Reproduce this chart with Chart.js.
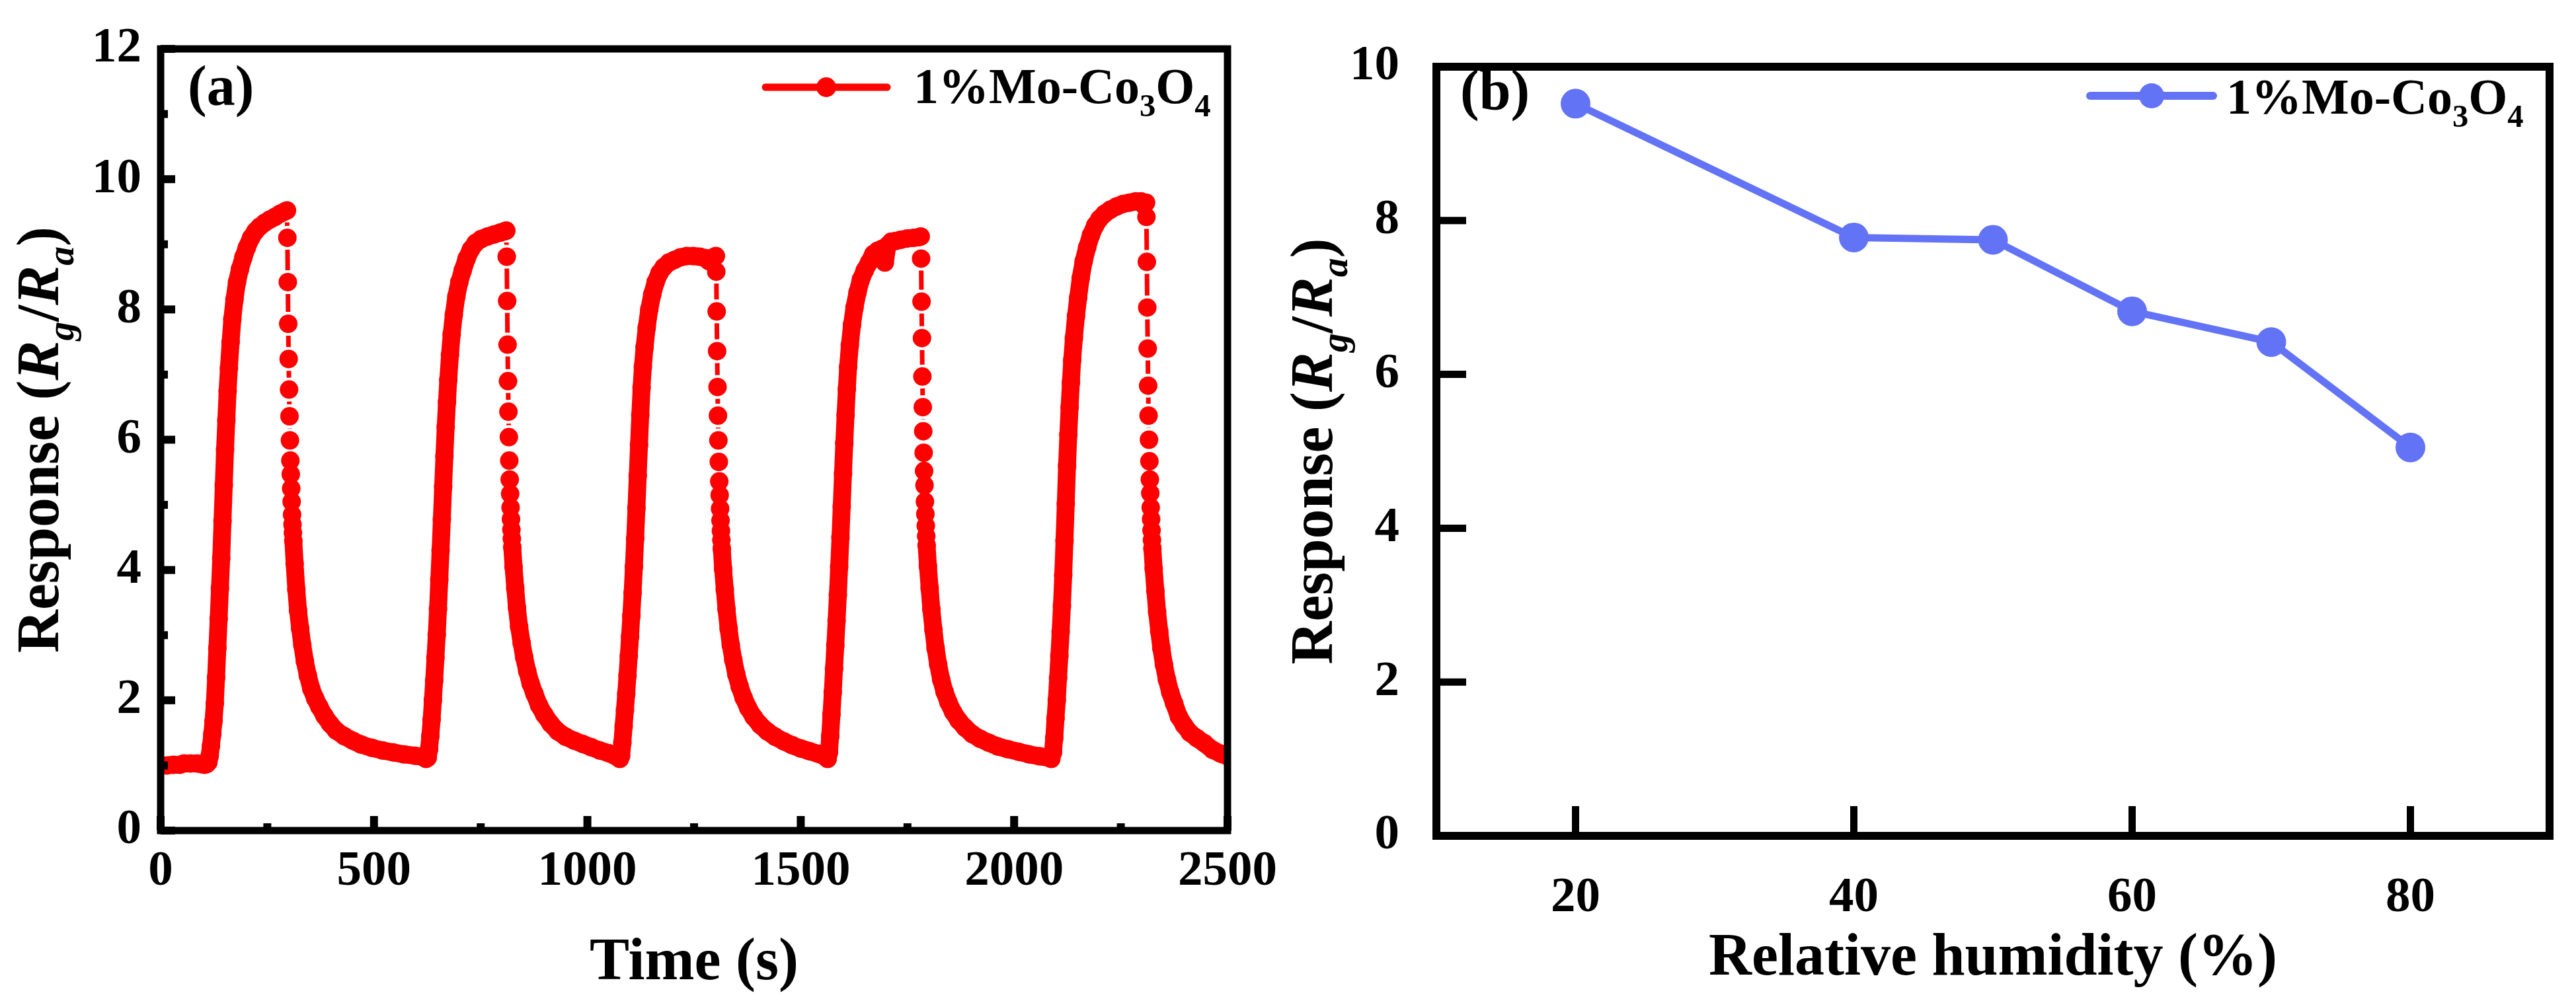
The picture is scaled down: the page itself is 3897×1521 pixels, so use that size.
<!DOCTYPE html>
<html>
<head>
<meta charset="utf-8">
<script src="https://cdn.jsdelivr.net/npm/chart.js@4.4.1/dist/chart.umd.min.js"></script>
<style>
  html, body { margin: 0; padding: 0; background: #fff; overflow: hidden; }
  #wrap { position: relative; width: 3897px; height: 1521px; }
  canvas { position: absolute; top: 0; }
  #chartA { left: 0; }
  #chartB { left: 1950px; }
</style>
</head>
<body>
<div id="wrap">
  <canvas id="chartA" width="1950" height="1521"></canvas>
  <canvas id="chartB" width="1947" height="1521"></canvas>
</div>
<script>
// (a) five response/recovery cycles (time in s, response Rg/Ra)
const cycle1Time = [0, 15, 30, 45, 55, 70, 85, 95, 103, 108, 112,
  115, 118, 121, 124, 127, 130, 133, 136, 139, 142, 145, 148, 151, 154, 157, 160,
  164, 168, 173, 179, 186, 194, 202, 212, 222, 232, 244, 256, 268, 280, 290, 296,
  297, 298, 299, 300, 301, 302, 303, 304, 305, 306, 307, 308, 309, 310, 311,
  314, 318, 322, 327, 332, 338, 345, 353, 362, 372, 384, 397, 412, 430, 450, 470, 495, 520, 545, 570, 595, 615];
const cycle1Resp = [1.00, 1.00, 1.01, 1.01, 1.03, 1.03, 1.03, 1.02, 1.01, 1.02, 1.05,
  1.15, 1.30, 1.48, 1.68, 1.95, 2.35, 2.80, 3.25, 3.72, 4.18, 4.75, 5.30, 5.85, 6.30, 6.75, 7.10,
  7.50, 7.85, 8.15, 8.42, 8.62, 8.80, 8.95, 9.10, 9.20, 9.27, 9.33, 9.38, 9.42, 9.47, 9.50, 9.52,
  9.10, 8.42, 7.78, 7.24, 6.77, 6.36, 5.99, 5.68, 5.47, 5.25, 5.05, 4.85, 4.70, 4.57, 4.45,
  4.10, 3.70, 3.38, 3.10, 2.85, 2.60, 2.38, 2.18, 2.03, 1.90, 1.76, 1.64, 1.53, 1.45, 1.38, 1.32, 1.27, 1.23, 1.20, 1.17, 1.15, 1.13];

const cycle2Time = [622, 626,
  629, 632, 635, 638, 641, 644, 647, 650, 653, 656, 659, 662, 665, 668, 671, 674,
  678, 682, 687, 693, 700, 708, 717, 727, 738, 751, 766, 781, 796, 806, 810,
  811, 812, 813, 814, 815, 816, 817, 818, 819, 820, 821, 822, 823, 824,
  827, 831, 835, 840, 846, 852, 859, 867, 876, 887, 899, 914, 931, 949, 969, 989, 1009, 1029, 1049, 1064, 1072];
const cycle2Resp = [1.10, 1.12,
  1.25, 1.45, 1.70, 2.00, 2.30, 2.65, 3.00, 3.40, 3.85, 4.30, 4.78, 5.28, 5.75, 6.20, 6.58, 6.92,
  7.30, 7.62, 7.92, 8.20, 8.42, 8.60, 8.78, 8.92, 9.02, 9.08, 9.12, 9.15, 9.18, 9.20, 9.21,
  8.81, 8.13, 7.46, 6.90, 6.43, 6.04, 5.68, 5.39, 5.17, 4.96, 4.78, 4.62, 4.48, 4.35,
  4.05, 3.72, 3.42, 3.13, 2.88, 2.66, 2.45, 2.26, 2.10, 1.92, 1.78, 1.64, 1.52, 1.44, 1.38, 1.33, 1.28, 1.23, 1.19, 1.15, 1.12];

const cycle3Time = [1076, 1079,
  1082, 1085, 1088, 1091, 1094, 1097, 1100, 1103, 1106, 1109, 1112, 1115, 1118, 1121, 1124, 1127,
  1130, 1134, 1139, 1145, 1152, 1160, 1169, 1179, 1191, 1204, 1218, 1233, 1248, 1263, 1275, 1285, 1295, 1301,
  1302, 1303, 1304, 1305, 1306, 1307, 1308, 1309, 1310, 1311, 1312, 1313, 1314, 1315,
  1318, 1322, 1326, 1331, 1336, 1342, 1349, 1357, 1366, 1377, 1390, 1405, 1422, 1440, 1460, 1480, 1500, 1520, 1540, 1553, 1560];
const cycle3Resp = [1.10, 1.15,
  1.35, 1.60, 1.85, 2.10, 2.38, 2.68, 2.98, 3.30, 3.65, 4.05, 4.48, 4.95, 5.45, 5.92, 6.38, 6.80,
  7.12, 7.42, 7.72, 8.00, 8.23, 8.42, 8.56, 8.65, 8.72, 8.76, 8.80, 8.82, 8.82, 8.81, 8.79, 8.74, 8.80, 8.82,
  8.58, 7.97, 7.36, 6.81, 6.37, 5.99, 5.66, 5.36, 5.15, 4.94, 4.76, 4.60, 4.46, 4.33,
  4.02, 3.70, 3.40, 3.10, 2.85, 2.62, 2.40, 2.21, 2.04, 1.88, 1.74, 1.62, 1.52, 1.44, 1.37, 1.31, 1.26, 1.22, 1.18, 1.15, 1.12];

const cycle4Time = [1563, 1566,
  1569, 1572, 1575, 1578, 1581, 1584, 1587, 1590, 1593, 1596, 1599, 1602, 1605, 1608, 1611,
  1615, 1620, 1626, 1633, 1641, 1650, 1660, 1670, 1680, 1690, 1697, 1703, 1712, 1722, 1735, 1750, 1765, 1777, 1781,
  1782, 1783, 1784, 1785, 1786, 1787, 1788, 1789, 1790, 1791, 1792, 1793, 1794, 1795,
  1798, 1802, 1806, 1811, 1816, 1822, 1829, 1837, 1846, 1857, 1870, 1885, 1902, 1920, 1940, 1962, 1985, 2010, 2035, 2060, 2080, 2087];
const cycle4Resp = [1.10, 1.20,
  1.45, 1.78, 2.12, 2.48, 2.84, 3.22, 3.62, 4.05, 4.50, 4.98, 5.48, 5.95, 6.38, 6.78, 7.12,
  7.45, 7.76, 8.03, 8.26, 8.46, 8.60, 8.72, 8.85, 8.90, 8.93, 8.72, 8.98, 9.04, 9.05, 9.07, 9.09, 9.10, 9.11, 9.12,
  8.78, 8.12, 7.56, 6.97, 6.50, 6.13, 5.80, 5.52, 5.30, 5.05, 4.86, 4.68, 4.52, 4.38,
  4.06, 3.72, 3.40, 3.08, 2.80, 2.55, 2.32, 2.13, 1.97, 1.82, 1.69, 1.58, 1.48, 1.41, 1.35, 1.29, 1.25, 1.21, 1.17, 1.14, 1.12, 1.10];

const cycle5Time = [2091,
  2094, 2097, 2100, 2103, 2106, 2109, 2112, 2115, 2118, 2121, 2124, 2127, 2130, 2133, 2136,
  2140, 2145, 2150, 2156, 2163, 2171, 2180, 2190, 2200, 2212, 2225, 2240, 2255, 2270, 2285, 2297, 2304, 2309,
  2310, 2311, 2312, 2313, 2314, 2315, 2316, 2317, 2318, 2319, 2320, 2321, 2322, 2323, 2324,
  2327, 2331, 2335, 2340, 2345, 2351, 2358, 2366, 2375, 2386, 2398, 2412, 2428, 2446, 2465, 2484, 2500];
const cycle5Resp = [1.20,
  1.42, 1.72, 2.00, 2.34, 2.68, 3.05, 3.45, 3.92, 4.45, 5.02, 5.60, 6.08, 6.50, 6.88, 7.22,
  7.56, 7.90, 8.18, 8.48, 8.74, 8.95, 9.14, 9.29, 9.39, 9.47, 9.53, 9.58, 9.62, 9.64, 9.66, 9.66, 9.60, 9.64,
  9.42, 8.73, 8.03, 7.40, 6.83, 6.37, 6.00, 5.67, 5.39, 5.18, 4.96, 4.78, 4.61, 4.46, 4.33,
  4.02, 3.68, 3.36, 3.06, 2.80, 2.55, 2.32, 2.12, 1.95, 1.75, 1.62, 1.50, 1.42, 1.34, 1.24, 1.18, 1.14];

// (b) response vs relative humidity
const humidity = [20, 40, 50, 60, 70, 80];
const humidityResp = [9.52, 7.78, 7.75, 6.82, 6.42, 5.05];

// tick labels
const timeTicks = [0, 500, 1000, 1500, 2000, 2500];
const respTicksA = [0, 2, 4, 6, 8, 10, 12];
const humidityTicks = [20, 40, 60, 80];
const respTicksB = [0, 2, 4, 6, 8, 10];

const seriesName = "1%Mo-Co3O4";
const RED = "#ff0000";
const BLUE = "#6373f5";
const FONT = "'Liberation Serif', serif";

Chart.defaults.font.family = FONT;
Chart.defaults.color = "#000";

const cycles = [
  [cycle1Time, cycle1Resp], [cycle2Time, cycle2Resp], [cycle3Time, cycle3Resp],
  [cycle4Time, cycle4Resp], [cycle5Time, cycle5Resp]
];
const pointsA = cycles.flatMap(([t, r]) => t.map((v, i) => ({ x: v, y: r[i] })));
const pointsB = humidity.map((h, i) => ({ x: h, y: humidityResp[i] }));

const midpoints = arr => arr.slice(1).map((v, i) => (v + arr[i]) / 2);

// text with italic / subscript pieces, parts = [[text, flags]] flags: i = italic, s = subscript
function drawRich(ctx, parts, x, y, size, align) {
  let total = 0;
  const runs = parts.map(([text, flags]) => {
    const sub = flags.includes("s");
    const fs = sub ? size * 0.64 : size;
    const font = (flags.includes("i") ? "italic " : "") + "bold " + fs + "px " + FONT;
    ctx.font = font;
    const w = ctx.measureText(text).width;
    total += w;
    return { text, font, w, dy: sub ? size * 0.26 : 0 };
  });
  let cx = align === "center" ? x - total / 2 : x;
  ctx.textAlign = "left";
  ctx.textBaseline = "alphabetic";
  runs.forEach(r => {
    ctx.font = r.font;
    ctx.fillText(r.text, cx, y + r.dy);
    cx += r.w;
  });
}

const yTitleParts = [["Response (", ""], ["R", "i"], ["g", "is"], ["/", ""], ["R", "i"], ["a", "is"], [")", ""]];
const legendParts = [["1%Mo-Co", ""], ["3", "s"], ["O", ""], ["4", "s"]];

// frame, inward ticks, titles, legend and panel letter
function makeDecor(cfg) {
  return {
    id: "decor",
    afterDraw(chart) {
      const { ctx, chartArea: a, scales } = chart;
      ctx.save();
      ctx.strokeStyle = "#000";
      ctx.fillStyle = "#000";
      ctx.lineCap = "butt";
      ctx.lineWidth = cfg.tickWidth;
      const tick = (vals, len, isX) => vals.forEach(v => {
        ctx.beginPath();
        if (isX) {
          const px = scales.x.getPixelForValue(v);
          ctx.moveTo(px, a.bottom);
          ctx.lineTo(px, a.bottom - len);
        } else {
          const py = scales.y.getPixelForValue(v);
          ctx.moveTo(a.left, py);
          ctx.lineTo(a.left + len, py);
        }
        ctx.stroke();
      });
      tick(cfg.xMajor, cfg.majorLen, true);
      tick(cfg.yMajor, cfg.majorLen, false);
      tick(cfg.xMinor, cfg.minorLen, true);
      tick(cfg.yMinor, cfg.minorLen, false);

      ctx.lineWidth = cfg.frameWidth;
      ctx.lineJoin = "miter";
      ctx.strokeRect(a.left, a.top, a.right - a.left, a.bottom - a.top);

      // axis titles
      drawRich(ctx, [[cfg.xTitle, ""]], (a.left + a.right) / 2, cfg.xTitleY, 90, "center");
      ctx.save();
      ctx.translate(cfg.yTitleX, (a.top + a.bottom) / 2);
      ctx.rotate(-Math.PI / 2);
      drawRich(ctx, yTitleParts, 0, 0, 90, "center");
      ctx.restore();

      // panel letter
      drawRich(ctx, [[cfg.panel, ""]], cfg.panelX, cfg.panelY, 86, "left");

      // legend
      const lg = cfg.legend;
      ctx.strokeStyle = cfg.color;
      ctx.fillStyle = cfg.color;
      ctx.lineWidth = lg.lw;
      ctx.lineCap = "round";
      ctx.beginPath();
      ctx.moveTo(lg.x0, lg.y);
      ctx.lineTo(lg.x1, lg.y);
      ctx.stroke();
      ctx.beginPath();
      ctx.arc((lg.x0 + lg.x1) / 2, lg.y, lg.r, 0, Math.PI * 2);
      ctx.fill();
      ctx.fillStyle = "#000";
      drawRich(ctx, legendParts, lg.textX, lg.textY, 76, "left");
      ctx.restore();
    }
  };
}

const tickFont = { size: 75, weight: "bold", family: FONT };

function axis(min, max, ticks, pad, fit) {
  return {
    type: "linear",
    min: min,
    max: max,
    afterBuildTicks: s => { s.ticks = ticks.map(v => ({ value: v })); },
    afterFit: fit,
    grid: { display: false, drawTicks: false },
    border: { display: false },
    ticks: { font: tickFont, color: "#000", padding: pad, autoSkip: false, maxRotation: 0, callback: v => String(v) }
  };
}

// Origin-style "gap to symbol" line for the fast drop (1 s steps)
const GAP = 18;
const isDrop = c => {
  const d = c.chart.data.datasets[c.datasetIndex].data;
  return d[c.p1DataIndex].x - d[c.p0DataIndex].x <= 1;
};
const dropDash = c => {
  const L = Math.hypot(c.p1.x - c.p0.x, c.p1.y - c.p0.y);
  if (L <= 2 * GAP) return [0, L + 100];
  return [0, GAP, L - 2 * GAP, L + 100];
};

function drawCharts() {
  new Chart(document.getElementById("chartA"), {
    type: "line",
    data: {
      datasets: [{
        label: seriesName,
        data: pointsA,
        borderColor: RED,
        backgroundColor: RED,
        pointBackgroundColor: RED,
        pointBorderWidth: 0,
        pointRadius: 14,
        borderWidth: 27,
        borderCapStyle: "round",
        borderJoinStyle: "round",
        tension: 0,
        clip: 0,
        segment: {
          borderWidth: c => isDrop(c) ? 7 : 27,
          borderCapStyle: c => isDrop(c) ? "butt" : "round",
          borderDash: c => isDrop(c) ? dropDash(c) : []
        }
      }]
    },
    options: {
      responsive: false,
      animation: false,
      devicePixelRatio: 1,
      layout: { padding: { top: 65, right: 90, bottom: 0, left: 0 } },
      plugins: { legend: { display: false }, tooltip: { enabled: false } },
      scales: {
        x: axis(0, 2500, timeTicks, 18, s => { s.height = 264; }),
        y: axis(0, 12, respTicksA, 29, s => { s.width = 243; })
      }
    },
    plugins: [makeDecor({
      frameWidth: 11, tickWidth: 12, majorLen: 22, minorLen: 11,
      xMajor: timeTicks, yMajor: respTicksA,
      xMinor: midpoints(timeTicks), yMinor: midpoints(respTicksA),
      xTitle: "Time (s)", xTitleY: 1482, yTitleX: 88,
      panel: "(a)", panelX: 284, panelY: 159,
      color: RED,
      legend: { x0: 1158, x1: 1342, y: 132, r: 15, lw: 11, textX: 1382, textY: 156 }
    })]
  });

  new Chart(document.getElementById("chartB"), {
    type: "line",
    data: {
      datasets: [{
        label: seriesName,
        data: pointsB,
        borderColor: BLUE,
        backgroundColor: BLUE,
        pointBackgroundColor: BLUE,
        pointBorderWidth: 0,
        pointRadius: 22.5,
        borderWidth: 11,
        tension: 0
      }]
    },
    options: {
      responsive: false,
      animation: false,
      devicePixelRatio: 1,
      layout: { padding: { top: 66, right: 40, bottom: 0, left: 0 } },
      plugins: { legend: { display: false }, tooltip: { enabled: false } },
      scales: {
        x: axis(10, 90, humidityTicks, 50, s => { s.height = 256; }),
        y: axis(0, 10, respTicksB, 56, s => { s.width = 223; })
      }
    },
    plugins: [makeDecor({
      frameWidth: 12, tickWidth: 11, majorLen: 45, minorLen: 0,
      xMajor: humidityTicks, yMajor: respTicksB, xMinor: [], yMinor: [],
      xTitle: "Relative humidity (%)", xTitleY: 1475, yTitleX: 65,
      panel: "(b)", panelX: 259, panelY: 165,
      color: BLUE,
      legend: { x0: 1212, x1: 1398, y: 145, r: 19, lw: 12, textX: 1418, textY: 172 }
    })]
  });
}

Promise.all([
  document.fonts.load("bold 75px 'Liberation Serif'"),
  document.fonts.load("italic bold 75px 'Liberation Serif'")
]).then(drawCharts, drawCharts);
</script>
</body>
</html>
